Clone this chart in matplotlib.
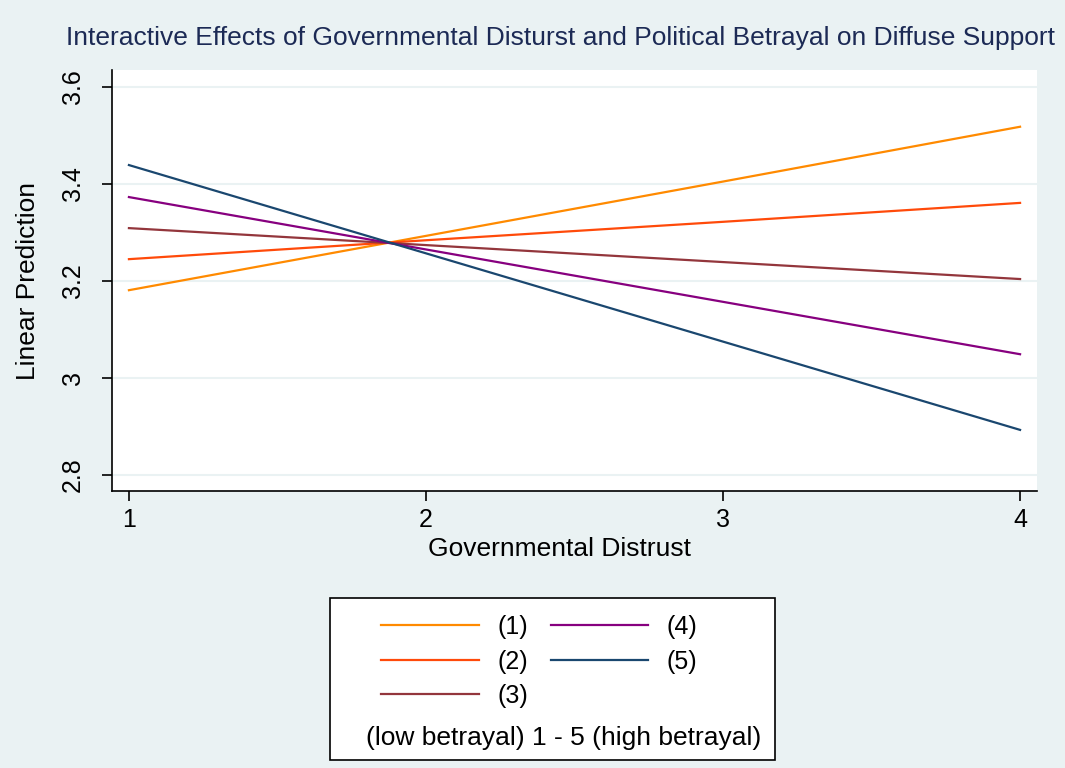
import matplotlib
matplotlib.use('Agg')
from matplotlib import pyplot as plt
from matplotlib.patches import Rectangle

plt.rcParams['font.family'] = ['Liberation Sans', 'DejaVu Sans']

# predicted values at each level of governmental distrust, one series per betrayal level
distrust = [1, 2, 3, 4]
betrayal_1 = [3.181, 3.293, 3.405, 3.518]
betrayal_2 = [3.245, 3.284, 3.322, 3.361]
betrayal_3 = [3.309, 3.274, 3.239, 3.204]
betrayal_4 = [3.373, 3.265, 3.157, 3.049]
betrayal_5 = [3.439, 3.257, 3.075, 2.893]
labels = ['(1)', '(2)', '(3)', '(4)', '(5)']
colors = ['#ff8a00', '#ff4a0a', '#93363c', '#87007f', '#1a476f']

bg = '#eaf2f3'
fig = plt.figure(figsize=(10.65, 7.68), dpi=100, facecolor=bg)
ax = fig.add_axes([112/1065, 1 - 491/768, 925/1065, 421/768])
ax.set_facecolor('white')

series = [betrayal_1, betrayal_2, betrayal_3, betrayal_4, betrayal_5]
handles = []
for vals, col, lab in zip(series, colors, labels):
    h, = ax.plot(distrust, vals, color=col, linewidth=1.6, label=lab)
    handles.append(h)

ax.set_xlim(0.943, 4.057)
ax.set_ylim(2.767, 3.635)
ax.set_xticks([1, 2, 3, 4])
ax.set_yticks([2.8, 3.0, 3.2, 3.4, 3.6])
ax.set_yticklabels(['2.8', '3', '3.2', '3.4', '3.6'], rotation=90, va='center')
ax.grid(axis='y', color=bg, linewidth=1.5)
ax.set_axisbelow(True)
for s in ['top', 'right']:
    ax.spines[s].set_visible(False)
ax.spines['left'].set_linewidth(1.2)
ax.spines['bottom'].set_linewidth(1.2)
ax.tick_params(labelsize=18, length=7.5, width=1.2)
ax.tick_params(axis='x', pad=5)
ax.tick_params(axis='y', pad=12)

ax.set_xlabel('Governmental Distrust', fontsize=19, va='center')
ax.xaxis.set_label_coords(0.484, -0.138)
ax.set_ylabel('Linear Prediction', fontsize=19, va='center')
ax.yaxis.set_label_coords(-0.091, 0.5)
fig.text(560/1065, 1 - 38/768, 'Interactive Effects of Governmental Disturst and Political Betrayal on Diffuse Support',
         ha='center', va='center', fontsize=19, color='#1c2a55')

# legend box
lax = fig.add_axes([330/1065, 1 - 760/768, 445/1065, 162/768])
lax.set_xlim(0, 1)
lax.set_ylim(0, 1)
lax.axis('off')
lax.add_patch(Rectangle((0, 0), 1, 1, transform=lax.transAxes, facecolor='white',
                        edgecolor='black', linewidth=1.2, clip_on=False))
lax.legend(handles, labels, ncol=2, loc='upper left', bbox_to_anchor=(51/445, 145/162),
           frameon=False, fontsize=18, handlelength=3.9, handletextpad=0.75,
           columnspacing=0.9, labelspacing=0.42, borderpad=0, borderaxespad=0)
lax.text((564 - 330)/445, (760 - 738)/162, '(low betrayal) 1 - 5 (high betrayal)', ha='center', va='center',
         fontsize=19, transform=lax.transAxes)

fig.savefig('out.png', dpi=100, facecolor=bg)
